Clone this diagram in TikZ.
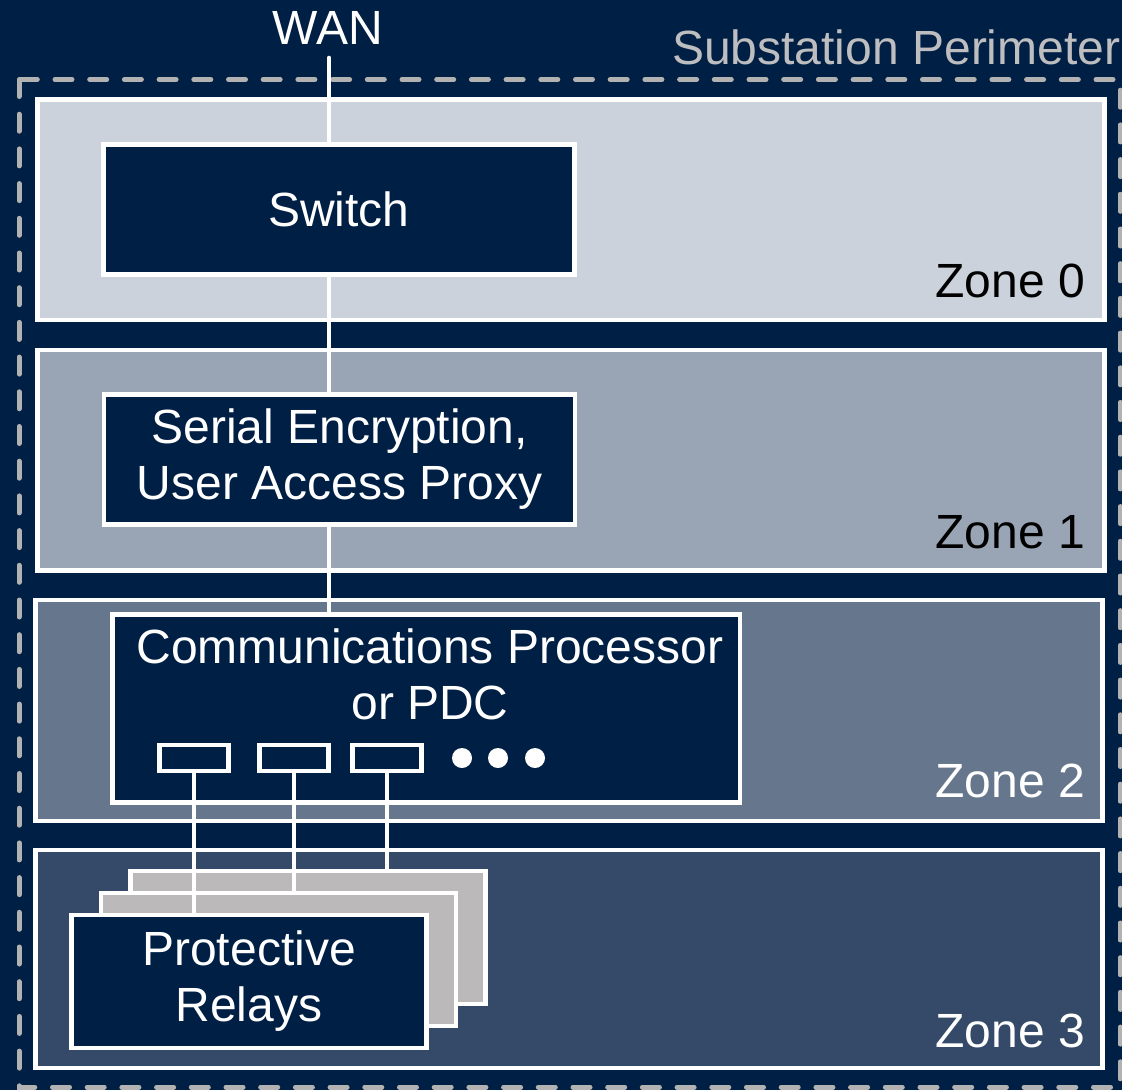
\documentclass[tikz,border=0pt]{standalone}
\usepackage{fontspec}
\setmainfont{Liberation Sans}

\definecolor{navy}{RGB}{0,31,68}
\definecolor{zonea}{RGB}{203,210,219}
\definecolor{zoneb}{RGB}{153,165,181}
\definecolor{zonec}{RGB}{102,119,141}
\definecolor{zoned}{RGB}{52,74,104}
\definecolor{relaygray}{RGB}{187,185,186}
\definecolor{perimgray}{RGB}{178,178,178}
\definecolor{perimtext}{RGB}{190,190,192}

\begin{document}
\begin{tikzpicture}[x=1pt,y=-1pt,
  bigfont/.style={font=\fontsize{48}{56}\selectfont},
  zonebox/.style={draw=white,line width=4.6pt},
  zonelabel/.style={bigfont,inner sep=0pt,anchor=base east},
  devbox/.style={rectangle,draw=white,fill=navy,line width=4.6pt,inner sep=0pt,
    text=white,align=center,bigfont},
  relaybox/.style={rectangle,draw=white,fill=relaygray,line width=4.6pt,inner sep=0pt,
    minimum width=355pt,minimum height=133pt},
  portbox/.style={rectangle,draw=white,fill=navy,line width=4.6pt,inner sep=0pt,
    minimum width=69.5pt,minimum height=26pt},
  dotmark/.style={circle,fill=white,inner sep=0pt,minimum size=20pt},
  link/.style={draw=white,line width=4.6pt},
  perim/.style={draw=perimgray,line width=5pt,line cap=round,
    dash pattern=on 17pt off 17.7pt}
]
% background and page frame
\fill[navy] (0,0) rectangle (1122,1090);
\useasboundingbox (0,0) rectangle (1122,1090);

% substation perimeter
\draw[perim] (19,79.5) rectangle (1120,1087);
\node[bigfont,text=perimtext,inner sep=0pt,anchor=base west] (perimlabel) at (672,64) {Substation Perimeter};

% security zones
\draw[zonebox,fill=zonea] (37.5,99.5) rectangle (1104.5,320);
\draw[zonebox,fill=zoneb] (37.5,350) rectangle (1104.5,570.5);
\draw[zonebox,fill=zonec] (35.5,600) rectangle (1102.5,821);
\draw[zonebox,fill=zoned] (35.5,850) rectangle (1102.5,1068);

\node[zonelabel,text=black] (z0) at (1085,297) {Zone 0};
\node[zonelabel,text=black] (z1) at (1085,548) {Zone 1};
\node[zonelabel,text=white] (z2) at (1085,797) {Zone 2};
\node[zonelabel,text=white] (z3) at (1085,1047) {Zone 3};

% WAN uplink
\node[bigfont,text=white,inner sep=0pt,anchor=base] (wan) at (328,44) {WAN};
\coordinate (wanport) at (329,58);

% devices
\node[devbox,minimum width=471pt,minimum height=130pt] (sw) at (339,209.5) {Switch};
\node[devbox,minimum width=471pt,minimum height=130.5pt] (sec) at (339.5,459.5)
  {Serial Encryption,\\User Access Proxy};
\node[devbox,minimum width=627.5pt,minimum height=188pt] (cp) at (426.25,708.5) {};
\node[bigfont,text=white,align=center,inner sep=0pt,anchor=north] (cptext) at (430,629)
  {Communications Processor\\or PDC};

% serial ports on the communications processor
\node[portbox] (p1) at (194,758) {};
\node[portbox] (p2) at (294,758) {};
\node[portbox] (p3) at (387,758) {};
\node[dotmark] (d1) at (462,758) {};
\node[dotmark] (d2) at (498,758) {};
\node[dotmark] (d3) at (535,758) {};

% stacked relays
\node[relaybox] (r3) at (308,937.5) {};
\node[relaybox] (r2) at (278.5,959.5) {};
\node[relaybox,fill=navy,text=white,align=center,bigfont] (r1) at (249,981.5)
  {Protective\\Relays};

% connections
\draw[link,line cap=round] (wanport) -- (wanport |- sw.north);
\draw[link] (sw.south -| wanport) -- (sec.north -| wanport);
\draw[link] (sec.south -| wanport) -- (cp.north -| wanport);
\draw[link] (p1.south) -- (p1.south |- r1.north);
\draw[link] (p2.south) -- (p2.south |- r2.north);
\draw[link] (p3.south) -- (p3.south |- r3.north);
\end{tikzpicture}
\end{document}
